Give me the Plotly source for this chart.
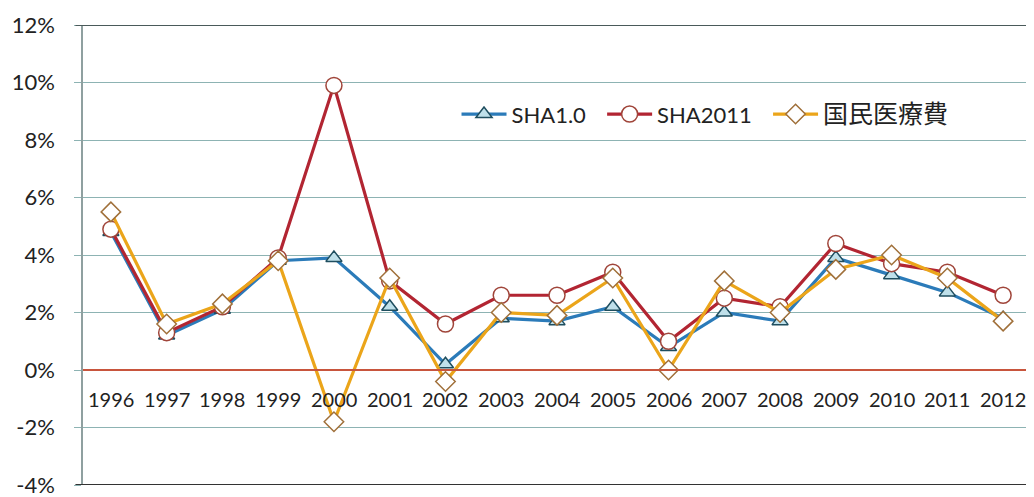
import plotly.graph_objects as go

years = ["1996", "1997", "1998", "1999", "2000", "2001", "2002", "2003", "2004",
         "2005", "2006", "2007", "2008", "2009", "2010", "2011", "2012"]
sha10 = [4.8, 1.2, 2.1, 3.8, 3.9, 2.2, 0.2, 1.8, 1.7, 2.2, 0.8, 2.0, 1.7, 3.9, 3.3, 2.7, 1.8]
sha2011 = [4.9, 1.3, 2.2, 3.9, 9.9, 3.1, 1.6, 2.6, 2.6, 3.4, 1.0, 2.5, 2.2, 4.4, 3.7, 3.4, 2.6]
nme = [5.5, 1.6, 2.3, 3.8, -1.8, 3.2, -0.4, 2.0, 1.9, 3.2, 0.0, 3.1, 2.0, 3.5, 4.0, 3.2, 1.7]
y_ticks = [-4, -2, 0, 2, 4, 6, 8, 10, 12]
y_labels = ["-4%", "-2%", "0%", "2%", "4%", "6%", "8%", "10%", "12%"]

FONT = "Lato, 'Noto Sans CJK JP', sans-serif"
xs = list(range(len(years)))

fig = go.Figure()
fig.add_trace(go.Scatter(
    x=xs, y=sha10, name="SHA1.0&nbsp;&nbsp;", mode="lines+markers",
    line=dict(color="#2B7BB9", width=3.2),
    marker=dict(symbol="triangle-up", size=14, color="#BFE0EA",
                line=dict(color="#1F4E5F", width=1.5))))
fig.add_trace(go.Scatter(
    x=xs, y=sha2011, name="SHA2011&nbsp;&nbsp;", mode="lines+markers",
    line=dict(color="#B22532", width=3.2),
    marker=dict(symbol="circle", size=16, color="white",
                line=dict(color="#A0453A", width=1.5))))
fig.add_trace(go.Scatter(
    x=xs, y=nme, name="<span style='font-size:25px'>国民医療費</span>", mode="lines+markers",
    line=dict(color="#EBA51A", width=3.2),
    marker=dict(symbol="diamond", size=15, color="white",
                line=dict(color="#A0703A", width=1.5))))

# category labels sit just below the zero line, as in the original
for i, yr in enumerate(years):
    fig.add_annotation(x=i, y=0, text=yr, showarrow=False, yshift=-29,
                       font=dict(family=FONT, size=20, color="#222"))

# zero line
fig.add_shape(type="line", xref="paper", x0=0, x1=1, yref="y", y0=0, y1=0,
              line=dict(color="#C8553D", width=2))
# top and bottom borders
fig.add_shape(type="line", xref="paper", x0=-0.008, x1=1, yref="y", y0=12, y1=12,
              line=dict(color="#4A5A5A", width=2))
fig.add_shape(type="line", xref="paper", x0=-0.008, x1=1, yref="y", y0=-4, y1=-4,
              line=dict(color="#333", width=2))

fig.update_layout(
    width=1026, height=489,
    margin=dict(l=75, r=3, t=17, b=12),
    paper_bgcolor="white", plot_bgcolor="white",
    font=dict(family=FONT, size=20, color="#222"),
    showlegend=True,
    legend=dict(orientation="h", x=0.394, y=0.806, xanchor="left", yanchor="middle",
                bgcolor="rgba(255,255,255,0)", font=dict(family=FONT, size=22, color="#222"),
                itemwidth=45, tracegroupgap=0),
    xaxis=dict(range=[-0.5, len(years) - 0.5], showticklabels=False, showgrid=False,
               zeroline=False, showline=False, ticks="", automargin=False),
    yaxis=dict(range=[-4, 12], tickvals=y_ticks, ticktext=y_labels,
               showgrid=True, gridcolor="#8DB3B3", gridwidth=1.2,
               zeroline=False, showline=True, linecolor="#8FA0A0", linewidth=1.5,
               ticks="outside", ticklen=7, tickcolor="#8DB3B3",
               ticklabelstandoff=15, ticklabeloverflow="allow", automargin=False,
               tickfont=dict(family=FONT, size=22, color="#222")),
)

fig.write_html("out.html")
